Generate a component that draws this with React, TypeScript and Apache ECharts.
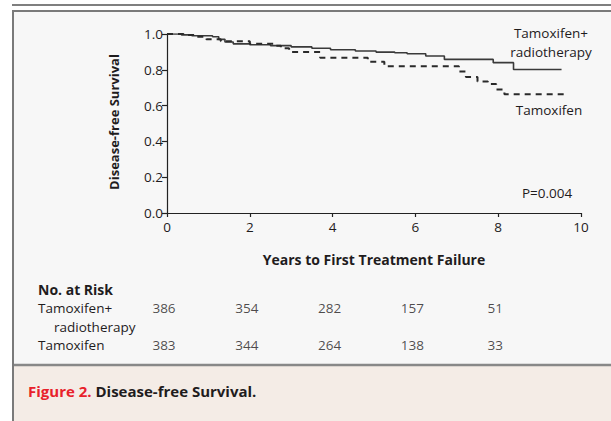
import React, { useEffect, useRef } from "react";
import * as echarts from "echarts";

// Kaplan-Meier estimates [years, survival]
const rtCurve: number[][] = [
  [0, 1], [0.35, 0.995], [0.6, 0.99], [1.1, 0.985], [1.25, 0.97], [1.4, 0.955],
  [1.6, 0.945], [2.0, 0.94], [2.5, 0.935], [3.0, 0.928], [3.5, 0.92], [3.95, 0.912],
  [4.55, 0.905], [5.05, 0.899], [5.5, 0.895], [5.8, 0.89], [6.25, 0.877], [6.7, 0.858],
  [7.88, 0.84], [8.37, 0.802], [9.53, 0.802],
];
const tamCurve: number[][] = [
  [0, 1], [0.4, 0.995], [0.7, 0.985], [0.95, 0.97], [1.3, 0.96], [2.0, 0.945],
  [2.6, 0.935], [2.75, 0.92], [2.95, 0.9], [3.7, 0.868], [4.85, 0.845], [5.25, 0.82],
  [7.05, 0.79], [7.22, 0.76], [7.5, 0.735], [7.75, 0.72], [7.95, 0.69], [8.15, 0.663],
  [9.65, 0.663],
];
const riskYears = [0, 2, 4, 6, 8];
const riskRT = [386, 354, 282, 157, 51];
const riskTam = [383, 344, 264, 138, 33];
const riskRows = ["Tamoxifen+ radiotherapy", "Tamoxifen"];

const FONT = "'Open Sans', 'Liberation Sans', sans-serif";
const INK = "#1f1c1d";

export default function App() {
  const ref = useRef<HTMLDivElement>(null);
  useEffect(() => {
    document.body.style.margin = "0";
    if (!ref.current) return;
    const chart = echarts.init(ref.current, undefined, { renderer: "svg" });
    const txt = (x: number, y: number, text: string, extra: any = {}) => ({
      type: "text",
      x,
      y,
      z: 5,
      style: {
        text,
        fill: INK,
        fontFamily: FONT,
        fontSize: 13.5,
        verticalAlign: "middle",
        ...extra,
      },
    });
    const option: any = {
      animation: false,
      backgroundColor: "#ffffff",
      graphic: [
        { type: "rect", z: -10, shape: { x: 13, y: 11, width: 598, height: 354 }, style: { fill: "#f7f7f7" } },
        { type: "rect", z: -10, shape: { x: 14, y: 366, width: 597, height: 55 }, style: { fill: "#f4ece6" } },
        { type: "line", z: -5, shape: { x1: 12, y1: 5, x2: 611, y2: 5 }, style: { stroke: "#555", lineWidth: 1.5 } },
        { type: "line", z: -5, shape: { x1: 12, y1: 11, x2: 611, y2: 11 }, style: { stroke: "#7a7a7a", lineWidth: 2 } },
        { type: "line", z: -5, shape: { x1: 13, y1: 10, x2: 13, y2: 421 }, style: { stroke: "#7a7a7a", lineWidth: 2 } },
        { type: "line", z: -5, shape: { x1: 14, y1: 365, x2: 611, y2: 365 }, style: { stroke: "#888", lineWidth: 2.5 } },
        // axis titles
        {
          type: "text", x: 114, y: 122, rotation: Math.PI / 2, z: 5,
          style: { text: "Disease-free Survival", fill: INK, fontFamily: FONT, fontSize: 13, fontWeight: "bold", align: "center", verticalAlign: "middle" },
        },
        txt(374, 259, "Years to First Treatment Failure", { fontSize: 14, fontWeight: "bold", align: "center" }),
        // curve labels
        txt(551, 33, "Tamoxifen+", { align: "center" }),
        txt(551, 52, "radiotherapy", { align: "center" }),
        txt(549, 110, "Tamoxifen", { align: "center" }),
        txt(547, 193, "P=0.004", { align: "center" }),
        // risk table labels
        txt(38, 289, "No. at Risk", { fontSize: 14, fontWeight: "bold" }),
        txt(38, 308, "Tamoxifen+"),
        txt(54, 327, "radiotherapy"),
        txt(38, 345, "Tamoxifen"),
        // caption
        {
          type: "text", x: 28, y: 391, z: 5,
          style: {
            text: "{r|Figure 2.} {k|Disease-free Survival.}",
            fontFamily: FONT, fontSize: 15, fontWeight: "bold", verticalAlign: "middle",
            rich: {
              r: { fill: "#e8212b", fontFamily: FONT, fontSize: 15, fontWeight: "bold" },
              k: { fill: INK, fontFamily: FONT, fontSize: 15, fontWeight: "bold" },
            },
          },
        },
      ],
      grid: [
        { left: 167, top: 34, width: 414, height: 179 },
        { left: 167, top: 289.5, width: 414, height: 74 },
      ],
      xAxis: [
        {
          type: "value", gridIndex: 0, min: 0, max: 10, interval: 2,
          axisLine: { show: true, lineStyle: { color: "#222", width: 1.2 } },
          axisTick: { show: true, length: 4, lineStyle: { color: "#222", width: 1.2 } },
          splitLine: { show: false },
          axisLabel: { color: INK, fontFamily: FONT, fontSize: 13.5, margin: 7 },
        },
        { type: "value", gridIndex: 1, min: 0, max: 10, show: false },
      ],
      yAxis: [
        {
          type: "value", gridIndex: 0, min: 0, max: 1, interval: 0.2,
          axisLine: { show: true, lineStyle: { color: "#222", width: 1.2 } },
          axisTick: { show: true, length: 5, lineStyle: { color: "#222", width: 1.2 } },
          splitLine: { show: false },
          axisLabel: { color: INK, fontFamily: FONT, fontSize: 13.5, margin: 4, formatter: (v: number) => v.toFixed(1) },
        },
        { type: "category", gridIndex: 1, data: riskRows, inverse: true, show: false },
      ],
      series: [
        {
          type: "line", name: "Tamoxifen+radiotherapy", xAxisIndex: 0, yAxisIndex: 0,
          step: "end", data: rtCurve, showSymbol: false, symbol: "none",
          lineStyle: { color: "#3a3a3a", width: 1.6 },
        },
        {
          type: "line", name: "Tamoxifen", xAxisIndex: 0, yAxisIndex: 0,
          step: "end", data: tamCurve, showSymbol: false, symbol: "none",
          lineStyle: { color: "#2a2a2a", width: 2, type: [6, 5] },
        },
        {
          type: "scatter", xAxisIndex: 1, yAxisIndex: 1, symbolSize: 0,
          data: riskRT.map((v, i) => [riskYears[i], riskRows[0], v]),
          label: { show: true, position: "inside", offset: [-3, 0], formatter: (p: any) => String(p.value[2]), color: INK, fontFamily: FONT, fontSize: 13.5 },
        },
        {
          type: "scatter", xAxisIndex: 1, yAxisIndex: 1, symbolSize: 0,
          data: riskTam.map((v, i) => [riskYears[i], riskRows[1], v]),
          label: { show: true, position: "inside", offset: [-3, 0], formatter: (p: any) => String(p.value[2]), color: INK, fontFamily: FONT, fontSize: 13.5 },
        },
      ],
    };
    chart.setOption(option);
    return () => chart.dispose();
  }, []);
  return <div ref={ref} style={{ width: 611, height: 421 }} />;
}
